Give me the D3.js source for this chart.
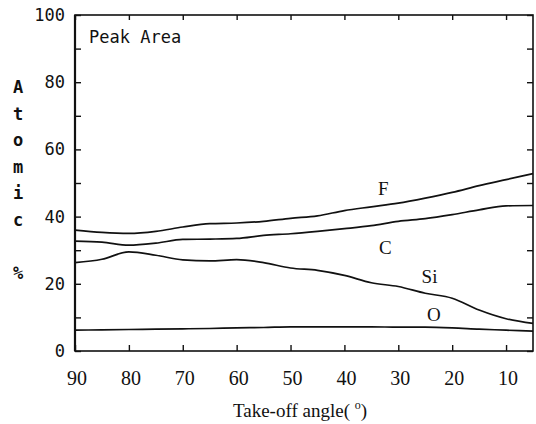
<!DOCTYPE html>
<html>
<head>
<meta charset="utf-8">
<script src="https://cdn.jsdelivr.net/npm/d3@7"></script>
<style>
  body { margin: 0; background: #fff; }
  text { fill: #111; }
  .mono { font-family: "DejaVu Sans Mono", monospace; }
  .serif { font-family: "Liberation Serif", "DejaVu Serif", serif; }
</style>
</head>
<body>
<div id="chart"></div>
<script>
// take-off angle (deg)
var angles = [90, 85, 80, 75, 70, 65, 60, 55, 50, 45, 40, 35, 30, 25, 20, 15, 10, 5];

var fValues  = [36.0, 35.3, 35.0, 35.6, 36.9, 37.9, 38.1, 38.6, 39.5, 40.2, 41.8, 42.9, 44.0, 45.5, 47.2, 49.2, 51.0, 52.8];
var cValues  = [32.7, 32.4, 31.5, 32.1, 33.2, 33.3, 33.5, 34.4, 34.9, 35.6, 36.4, 37.3, 38.6, 39.4, 40.6, 42.0, 43.2, 43.3];
var siValues = [26.3, 27.3, 29.5, 28.5, 27.1, 26.8, 27.2, 26.3, 24.7, 24.0, 22.5, 20.3, 19.2, 17.2, 15.7, 12.2, 9.6, 8.2];
var oValues  = [6.2, 6.3, 6.4, 6.5, 6.6, 6.7, 6.9, 7.0, 7.2, 7.2, 7.2, 7.2, 7.1, 7.1, 6.9, 6.5, 6.2, 5.9];

var seriesNames = ["F", "C", "Si", "O"];
var labelAngles = [32.8, 32.4, 24.2, 23.4];
var labelValues = [48.6, 31.0, 22.2, 10.9];

var xTicks = [90, 80, 70, 60, 50, 40, 30, 20, 10];
var yTicks = [0, 20, 40, 60, 80, 100];
var yLetters = ["A", "t", "o", "m", "i", "c", "", "%"];

(function() {

    var width = 536,
    height = 424;

    var svg = d3.select("#chart")
    .append("svg")
    .attr("width", width)
    .attr("height", height)

    var x = d3.scaleLinear().domain([90, 5]).range([75, 533])
    var y = d3.scaleLinear().domain([0, 100]).range([351, 15])

    var x0 = x.range()[0], x1 = x.range()[1],
        y0 = y.range()[0], y1 = y.range()[1];

    // frame
    svg.append("rect")
    .attr("x", x0)
    .attr("y", y1)
    .attr("width", x1 - x0)
    .attr("height", y0 - y1)
    .attr("fill", "none")
    .attr("stroke", "#111")
    .attr("stroke-width", 1.6)

    svg.append("line")
    .attr("x1", x0).attr("x2", x0)
    .attr("y1", y1).attr("y2", y0)
    .attr("stroke", "#111")
    .attr("stroke-width", 2.2)

    // inward ticks, every 10 on the value axes
    var minor = d3.range(0, 101, 10)

    svg.append("g")
    .attr("transform", "translate(" + x0 + ",0)")
    .call(d3.axisRight(y).tickValues(minor).tickSize(6).tickFormat(""))
    .call(function(g) { g.select(".domain").remove() })

    svg.append("g")
    .attr("transform", "translate(" + x1 + ",0)")
    .call(d3.axisLeft(y).tickValues(minor).tickSize(6).tickFormat(""))
    .call(function(g) { g.select(".domain").remove() })

    svg.append("g")
    .attr("transform", "translate(0," + y0 + ")")
    .call(d3.axisTop(x).tickValues(xTicks).tickSize(6).tickFormat(""))
    .call(function(g) { g.select(".domain").remove() })

    svg.append("g")
    .attr("transform", "translate(0," + y1 + ")")
    .call(d3.axisBottom(x).tickValues(xTicks).tickSize(5).tickFormat(""))
    .call(function(g) { g.select(".domain").remove() })

    svg.selectAll(".tick line").attr("stroke", "#111").attr("stroke-width", 1.4)

    // y tick labels
    svg.selectAll(".ylab")
    .data(yTicks)
    .enter().append("text")
    .attr("class", "ylab mono")
    .attr("x", x0 - 10)
    .attr("y", function(d) { return y(d) + 6 })
    .attr("text-anchor", "end")
    .attr("font-size", 17)
    .text(function(d) { return d })

    // x tick labels
    svg.selectAll(".xlab")
    .data(xTicks)
    .enter().append("text")
    .attr("class", "xlab serif")
    .attr("x", function(d) { return x(d) + 2 })
    .attr("y", 385)
    .attr("text-anchor", "middle")
    .attr("font-size", 20)
    .text(function(d) { return d })

    // stacked y title
    svg.selectAll(".yletter")
    .data(yLetters)
    .enter().append("text")
    .attr("class", "yletter mono")
    .attr("x", 18)
    .attr("y", function(d, i) { return 93 + i * 26.5 })
    .attr("text-anchor", "middle")
    .attr("font-size", 17)
    .attr("font-weight", "bold")
    .text(function(d) { return d })

    var title = svg.append("text")
    .attr("class", "serif")
    .attr("x", 300)
    .attr("y", 417)
    .attr("text-anchor", "middle")
    .attr("font-size", 19)
    title.append("tspan").text("Take-off angle( ")
    title.append("tspan").attr("font-size", 12).attr("dy", -8).text("o")
    title.append("tspan").attr("dy", 8).text(")")

    svg.append("text")
    .attr("class", "mono")
    .attr("x", 89)
    .attr("y", 43)
    .attr("font-size", 17)
    .text("Peak Area")

    // curves
    var allValues = [fValues, cValues, siValues, oValues]

    var line = d3.line()
    .x(function(d) { return x(d[0]) })
    .y(function(d) { return y(d[1]) })
    .curve(d3.curveMonotoneX)

    svg.selectAll(".series")
    .data(allValues)
    .enter().append("path")
    .attr("class", "series")
    .attr("fill", "none")
    .attr("stroke", "#111")
    .attr("stroke-width", 1.7)
    .attr("d", function(vals) {
        return line(angles.map(function(a, i) { return [a, vals[i]] }))
    })

    svg.selectAll(".serieslab")
    .data(seriesNames)
    .enter().append("text")
    .attr("class", "serieslab serif")
    .attr("x", function(d, i) { return x(labelAngles[i]) })
    .attr("y", function(d, i) { return y(labelValues[i]) + 7 })
    .attr("text-anchor", "middle")
    .attr("font-size", 19)
    .text(function(d) { return d })

})();
</script>
</body>
</html>
